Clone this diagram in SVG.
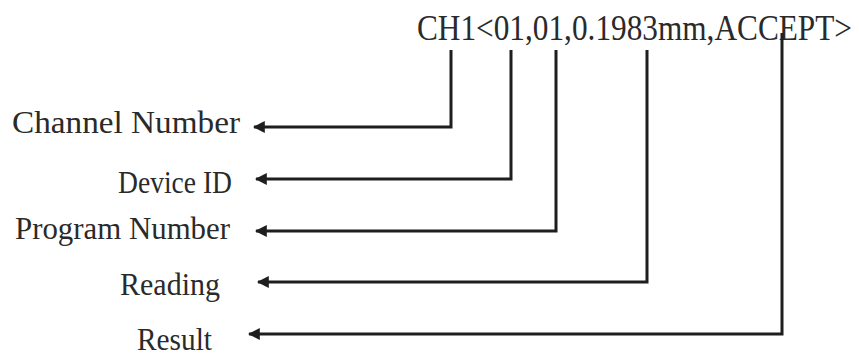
<svg xmlns="http://www.w3.org/2000/svg" width="859" height="355" viewBox="0 0 859 355">
<defs>
<style>
.t{font-family:"Liberation Serif","Times New Roman",serif;fill:#2a2a2a;}
.c{fill:none;stroke:#1e1e1e;stroke-width:3;marker-end:url(#ah);}
</style>
<marker id="ah" viewBox="0 0 10 10" refX="9" refY="5" markerWidth="4" markerHeight="4" orient="auto" markerUnits="strokeWidth">
<path d="M0,0 L10,5 L0,10 Z" fill="#1e1e1e"/>
</marker>
</defs>
<rect width="859" height="355" fill="#ffffff"/>
<g id="code"><text class="t" x="417" y="40" font-size="35" textLength="435" lengthAdjust="spacingAndGlyphs">CH1&lt;01,01,0.1983mm,ACCEPT&gt;</text></g>
<g id="channel"><text class="t" x="12" y="133" font-size="31" textLength="228" lengthAdjust="spacingAndGlyphs">Channel Number</text></g>
<g id="device"><text class="t" x="118" y="193" font-size="31" textLength="114" lengthAdjust="spacingAndGlyphs">Device ID</text></g>
<g id="program"><text class="t" x="15" y="239" font-size="31" textLength="215" lengthAdjust="spacingAndGlyphs">Program Number</text></g>
<g id="reading"><text class="t" x="120" y="295" font-size="31" textLength="100" lengthAdjust="spacingAndGlyphs">Reading</text></g>
<g id="result"><text class="t" x="137" y="350" font-size="31" textLength="75" lengthAdjust="spacingAndGlyphs">Result</text></g>
<g id="connectors">
<path class="c" d="M451,50 V127 H254"/>
<path class="c" d="M511,50 V179 H256"/>
<path class="c" d="M556,50 V231 H256"/>
<path class="c" d="M647,50 V282 H258"/>
<path class="c" d="M782,33 V334 H249"/>
</g>
</svg>
